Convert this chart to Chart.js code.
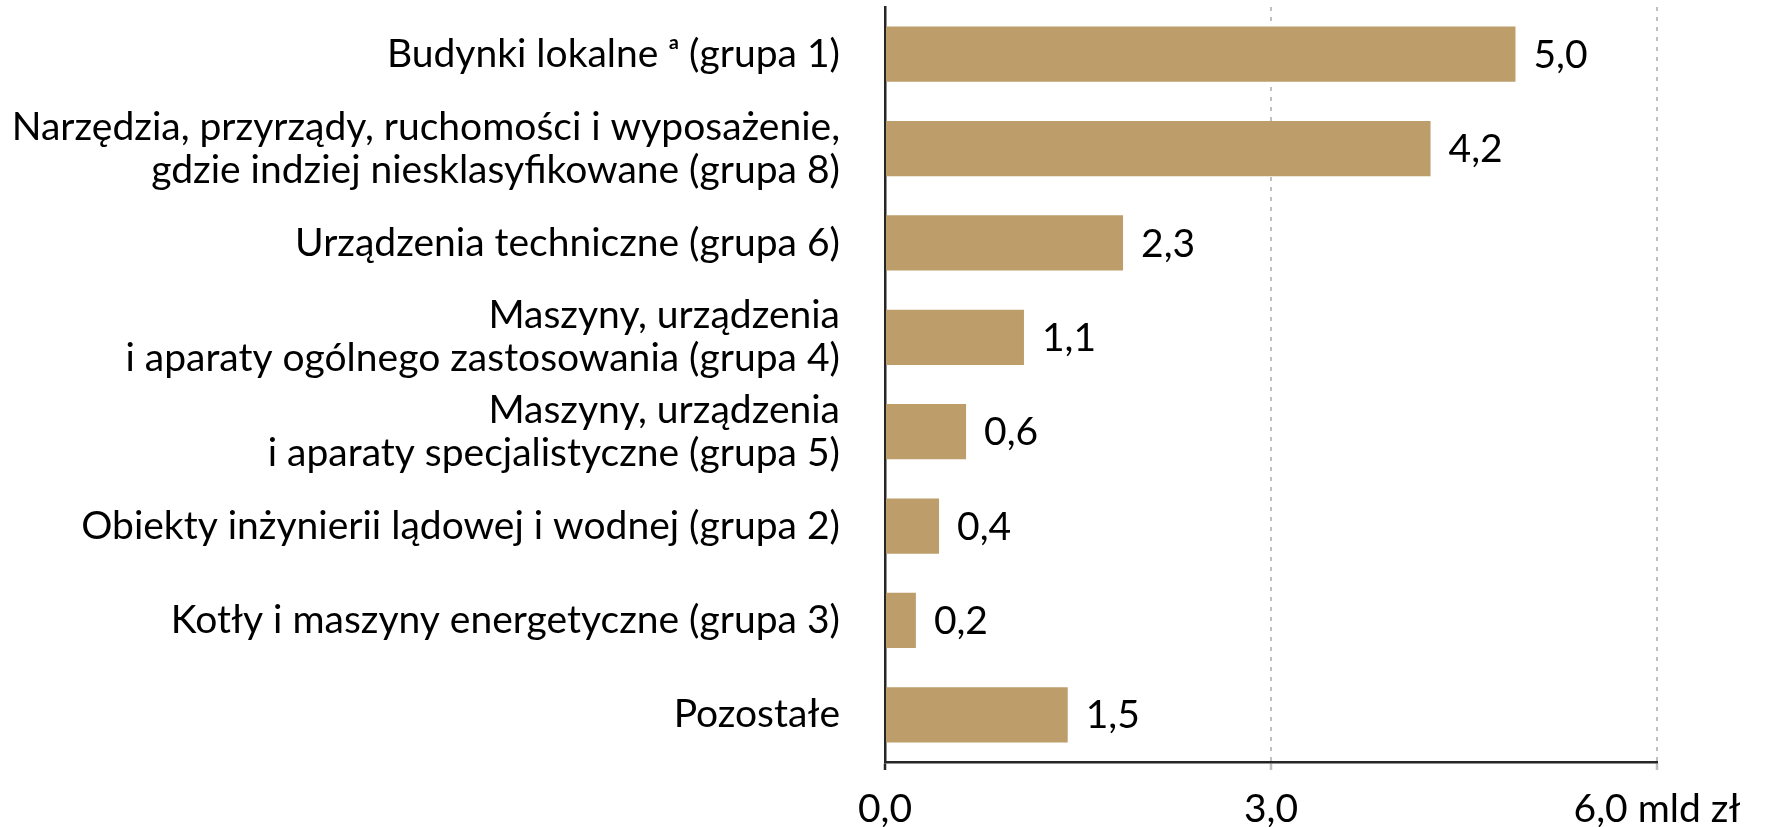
<!DOCTYPE html>
<html>
<head>
<meta charset="utf-8">
<script src="https://cdn.jsdelivr.net/npm/chart.js@4"></script>
<style>
  html, body { margin: 0; padding: 0; background: #fff; }
  canvas { display: block; }
</style>
</head>
<body>
<canvas id="barChart" width="1769" height="827"></canvas>
<script>
var categories = [
    'Budynki lokalne \u1D43 (grupa 1)',
    ['Narzędzia, przyrządy, ruchomości i wyposażenie,', 'gdzie indziej niesklasyfikowane (grupa 8)'],
    'Urządzenia techniczne (grupa 6)',
    ['Maszyny, urządzenia', 'i aparaty ogólnego zastosowania (grupa 4)'],
    ['Maszyny, urządzenia', 'i aparaty specjalistyczne (grupa 5)'],
    'Obiekty inżynierii lądowej i wodnej (grupa 2)',
    'Kotły i maszyny energetyczne (grupa 3)',
    'Pozostałe'
];
// bar lengths as drawn in the picture
var values = [4.9, 4.24, 1.85, 1.08, 0.63, 0.42, 0.24, 1.42];
// value labels as printed next to the bars
var valueLabels = ['5,0', '4,2', '2,3', '1,1', '0,6', '0,4', '0,2', '1,5'];
var xTicks = [0, 3, 6];
var xTickLabels = ['0,0', '3,0', '6,0 mld zł'];

var fontFamily = 'Lato, "Open Sans", sans-serif';
var fontSize = 39;

var labelPlugin = {
    id: 'barLabels',
    afterDatasetsDraw: function(chart) {
        var ctx = chart.ctx;
        var meta = chart.getDatasetMeta(0);
        ctx.save();
        ctx.font = fontSize + 'px ' + fontFamily;
        ctx.fillStyle = '#000';
        ctx.textBaseline = 'middle';
        ctx.textAlign = 'left';
        meta.data.forEach(function(bar, i) {
            ctx.fillText(valueLabels[i], bar.x + 18, bar.y + 1);
        });
        // x axis labels centred on their ticks, kept inside the canvas
        var xs = chart.scales.x;
        xTicks.forEach(function(v, i) {
            var px = xs.getPixelForValue(v);
            var w = ctx.measureText(xTickLabels[i]).width;
            var left = Math.min(px - w / 2, chart.width - 2 - w);
            ctx.fillText(xTickLabels[i], left, chart.chartArea.bottom + 47);
        });
        ctx.restore();
    }
};

var ctx = document.getElementById('barChart').getContext('2d');

var barChart = new Chart(ctx, {
    type: 'bar',
    data: {
        labels: categories,
        datasets: [{
            data: values,
            backgroundColor: '#BD9D6A',
            borderWidth: 0,
            categoryPercentage: 1,
            barPercentage: 0.585
        }]
    },
    options: {
        indexAxis: 'y',
        responsive: false,
        animation: false,
        devicePixelRatio: 1,
        layout: {
            padding: { left: 0, right: 112, top: 7, bottom: 57 }
        },
        plugins: {
            legend: { display: false },
            tooltip: { enabled: false }
        },
        scales: {
            x: {
                min: 0,
                max: 6,
                ticks: { display: false, stepSize: 3 },
                grid: {
                    color: function(c) { return c.tick && c.tick.value === 0 ? 'rgba(0,0,0,0)' : '#BFBFBF'; },
                    tickColor: function(c) { return c.tick && c.tick.value === 0 ? '#262626' : '#BFBFBF'; },
                    lineWidth: 2,
                    tickLength: 8,
                    tickWidth: 2.5
                },
                border: { display: true, color: '#262626', width: 2.5, dash: [4, 6] }
            },
            y: {
                afterFit: function(scale) {
                    scale.width = 885;
                    scale.paddingTop = 0;
                    scale.paddingBottom = 0;
                },
                ticks: {
                    color: '#000',
                    padding: 45,
                    font: { family: fontFamily, size: fontSize, lineHeight: 1.1 }
                },
                grid: { drawOnChartArea: false, drawTicks: false },
                border: { display: true, color: '#262626', width: 2.5 }
            }
        }
    },
    plugins: [labelPlugin]
});
</script>
</body>
</html>
